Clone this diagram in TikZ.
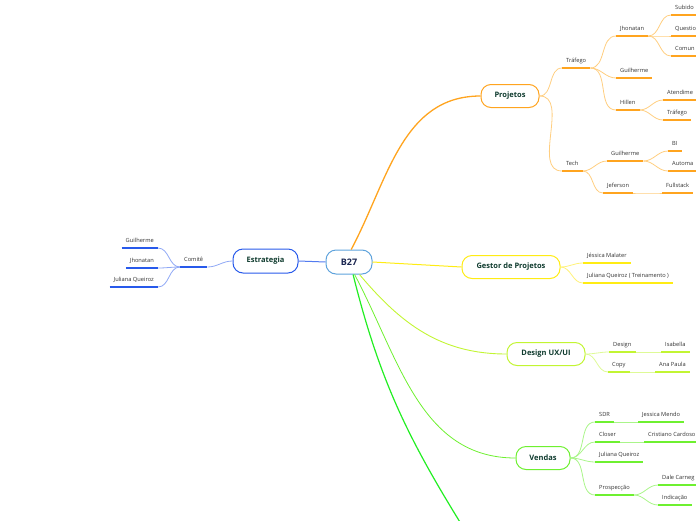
\documentclass[tikz,border=0pt]{standalone}
\usepackage{fontspec}
\setmainfont{Open Sans}
\usepackage{xcolor}
\usepackage{tikz}
\definecolor{mm-root}{RGB}{95, 163, 220}
\definecolor{mm-navy}{RGB}{26, 37, 80}
\definecolor{mm-ink}{RGB}{15, 59, 46}
\definecolor{mm-text}{RGB}{51, 51, 51}
\definecolor{mm-orange}{RGB}{255, 164, 31}
\definecolor{mm-orange-l}{RGB}{255, 206, 128}
\definecolor{mm-yellow}{RGB}{255, 236, 20}
\definecolor{mm-yellow-l}{RGB}{255, 242, 122}
\definecolor{mm-lime}{RGB}{194, 245, 50}
\definecolor{mm-lime-l}{RGB}{222, 250, 150}
\definecolor{mm-green}{RGB}{110, 240, 48}
\definecolor{mm-green-l}{RGB}{170, 245, 138}
\definecolor{mm-bright}{RGB}{34, 238, 34}
\definecolor{mm-blue}{RGB}{40, 90, 235}
\definecolor{mm-blue-l}{RGB}{143, 168, 245}

\begin{document}
\begin{tikzpicture}[x=1pt, y=1pt,
    topic/.style={rectangle, rounded corners=10pt, draw, fill=white, line width=1pt,
        minimum height=23pt, inner xsep=2pt, font=\fontsize{7.5}{8}\selectfont\bfseries, text=mm-ink},
    leaf/.style={inner xsep=4pt, inner ysep=4pt, text height=4.5pt, text depth=1.2pt,
        font=\fontsize{5.7}{6.5}\selectfont, text=mm-text},
    branch/.style={out=0, in=180},
    rbranch/.style={out=180, in=0}]
    \clip (0,0) rectangle (696,-520);

    % central topic and main topics
    \node[topic, draw=mm-root, minimum width=46pt, minimum height=24pt, text=mm-navy,
        font=\fontsize{9}{10}\selectfont\bfseries] (b27) at (349,-262) {B27};
    \node[topic, draw=mm-blue, minimum width=65pt, minimum height=24pt] (estr) at (265.5,-261) {Estrategia};
    \node[topic, draw=mm-orange, minimum width=58pt] (proj) at (510,-96) {Projetos};
    \node[topic, draw=mm-yellow, minimum width=98pt] (gest) at (511,-267) {Gestor de Projetos};
    \node[topic, draw=mm-lime, minimum width=78pt] (des) at (546,-354) {Design UX/UI};
    \node[topic, draw=mm-green, minimum width=54pt] (vend) at (543,-458) {Vendas};
    \coordinate (off) at (468,-535);

    \draw[line width=1.3pt, mm-orange] (b27.80) to[out=62, in=180] (proj.west);
    \draw[line width=1pt, mm-yellow] (b27.east) -- (gest.west);
    \draw[line width=0.9pt, mm-lime] (b27.-50) to[out=-50, in=180] (des.west);
    \draw[line width=0.8pt, mm-green] (b27.-66) to[out=-62, in=180] (vend.west);
    \draw[line width=1.2pt, mm-bright] (b27.-72) to[out=-76, in=122] (off);
    \draw[line width=1pt, mm-blue!80] (b27.west) -- (estr.east);

    % Projetos
    \node[leaf, anchor=south west] (traf) at (562,-68) {Tráfego};
    \node[leaf, anchor=south west] (tech) at (562,-171) {Tech};
    \node[leaf, anchor=south west] (jhon1) at (616,-36) {Jhonatan};
    \node[leaf, anchor=south west] (guil1) at (616,-78) {Guilherme};
    \node[leaf, anchor=south west] (hill) at (616,-110) {Hillen};
    \node[leaf, anchor=south west] (subi) at (671,-15) {Subido};
    \node[leaf, anchor=south west] (ques) at (671,-36) {Questio};
    \node[leaf, anchor=south west] (comu) at (671,-56) {Comun};
    \node[leaf, anchor=south west] (aten) at (663,-100) {Atendime};
    \node[leaf, anchor=south west] (traf2) at (663,-120) {Tráfego};
    \node[leaf, anchor=south west] (guil2) at (607,-161) {Guilherme};
    \node[leaf, anchor=south west] (jef) at (603,-193) {Jeferson};
    \node[leaf, anchor=south west] (bi) at (668,-151) {BI};
    \node[leaf, anchor=south west] (auto) at (668,-171) {Automa};
    \node[leaf, anchor=south west] (full) at (662,-193) {Fullstack};

    \draw[mm-orange-l, line width=0.8pt] (proj.east) to[branch] (traf.south west);
    \draw[mm-orange-l, line width=0.8pt] (proj.east) to[branch] (tech.south west);
    \foreach \k in {jhon1, guil1, hill}
        \draw[mm-orange-l, line width=0.8pt] (traf.south east) to[branch] (\k.south west);
    \foreach \k in {subi, ques, comu}
        \draw[mm-orange-l, line width=0.8pt] (jhon1.south east) to[branch] (\k.south west);
    \foreach \k in {aten, traf2}
        \draw[mm-orange-l, line width=0.8pt] (hill.south east) to[branch] (\k.south west);
    \foreach \k in {guil2, jef}
        \draw[mm-orange-l, line width=0.8pt] (tech.south east) to[branch] (\k.south west);
    \foreach \k in {bi, auto}
        \draw[mm-orange-l, line width=0.8pt] (guil2.south east) to[branch] (\k.south west);
    \draw[mm-orange-l, line width=0.8pt] (jef.south east) to[branch] (full.south west);
    \foreach \k in {traf, tech, jhon1, guil1, hill, subi, ques, comu, aten, traf2, guil2, jef, bi, auto, full}
        \draw[mm-orange, line width=1.4pt] (\k.south west) -- (\k.south east);

    % Gestor de Projetos
    \node[leaf, anchor=south west] (jess) at (583,-263) {Jéssica Malater};
    \node[leaf, anchor=south west] (juli1) at (583,-283) {Juliana Queiroz ( Treinamento )};
    \foreach \k in {jess, juli1} {
        \draw[mm-yellow-l, line width=0.8pt] (gest.east) to[branch] (\k.south west);
        \draw[mm-yellow, line width=1.4pt] (\k.south west) -- (\k.south east);
    }

    % Design UX/UI
    \node[leaf, anchor=south west] (desg) at (609,-352) {Design};
    \node[leaf, anchor=south west] (isab) at (661,-352) {Isabella};
    \node[leaf, anchor=south west] (copy) at (608,-372) {Copy};
    \node[leaf, anchor=south west] (ana) at (655,-372) {Ana Paula};
    \draw[mm-lime-l, line width=0.8pt] (des.east) to[branch] (desg.south west);
    \draw[mm-lime-l, line width=0.8pt] (des.east) to[branch] (copy.south west);
    \draw[mm-lime-l, line width=0.8pt] (desg.south east) -- (isab.south west);
    \draw[mm-lime-l, line width=0.8pt] (copy.south east) -- (ana.south west);
    \foreach \k in {desg, isab, copy, ana}
        \draw[mm-lime, line width=1.4pt] (\k.south west) -- (\k.south east);

    % Vendas
    \node[leaf, anchor=south west] (sdr) at (595,-422) {SDR};
    \node[leaf, anchor=south west] (jmen) at (638,-422) {Jessica Mendo};
    \node[leaf, anchor=south west] (clos) at (595,-442) {Closer};
    \node[leaf, anchor=south west] (cris) at (644,-442) {Cristiano Cardoso};
    \node[leaf, anchor=south west] (juli2) at (595,-462) {Juliana Queiroz};
    \node[leaf, anchor=south west] (prosp) at (595,-495) {Prospecção};
    \node[leaf, anchor=south west] (dale) at (658,-485) {Dale Carneg};
    \node[leaf, anchor=south west] (indi) at (658,-505) {Indicação};
    \foreach \k in {sdr, clos, juli2, prosp}
        \draw[mm-green-l, line width=0.8pt] (vend.east) to[branch] (\k.south west);
    \draw[mm-green-l, line width=0.8pt] (sdr.south east) -- (jmen.south west);
    \draw[mm-green-l, line width=0.8pt] (clos.south east) -- (cris.south west);
    \foreach \k in {dale, indi}
        \draw[mm-green-l, line width=0.8pt] (prosp.south east) to[branch] (\k.south west);
    \foreach \k in {sdr, jmen, clos, cris, juli2, prosp, dale, indi}
        \draw[mm-green, line width=1.4pt] (\k.south west) -- (\k.south east);

    % Estrategia
    \node[leaf, anchor=south west] (comi) at (180,-267) {Comitê};
    \node[leaf, anchor=south east] (guil3) at (158,-248) {Guilherme};
    \node[leaf, anchor=south east] (jhon3) at (158,-268) {Jhonatan};
    \node[leaf, anchor=south east] (juli3) at (158,-287) {Juliana Queiroz};
    \draw[mm-blue-l, line width=0.8pt] (estr.west) to[rbranch] (comi.south east);
    \foreach \k in {guil3, jhon3, juli3}
        \draw[mm-blue-l, line width=0.8pt] (comi.south west) to[rbranch] (\k.south east);
    \foreach \k in {comi, guil3, jhon3, juli3}
        \draw[mm-blue, line width=1.4pt] (\k.south west) -- (\k.south east);
\end{tikzpicture}
\end{document}
